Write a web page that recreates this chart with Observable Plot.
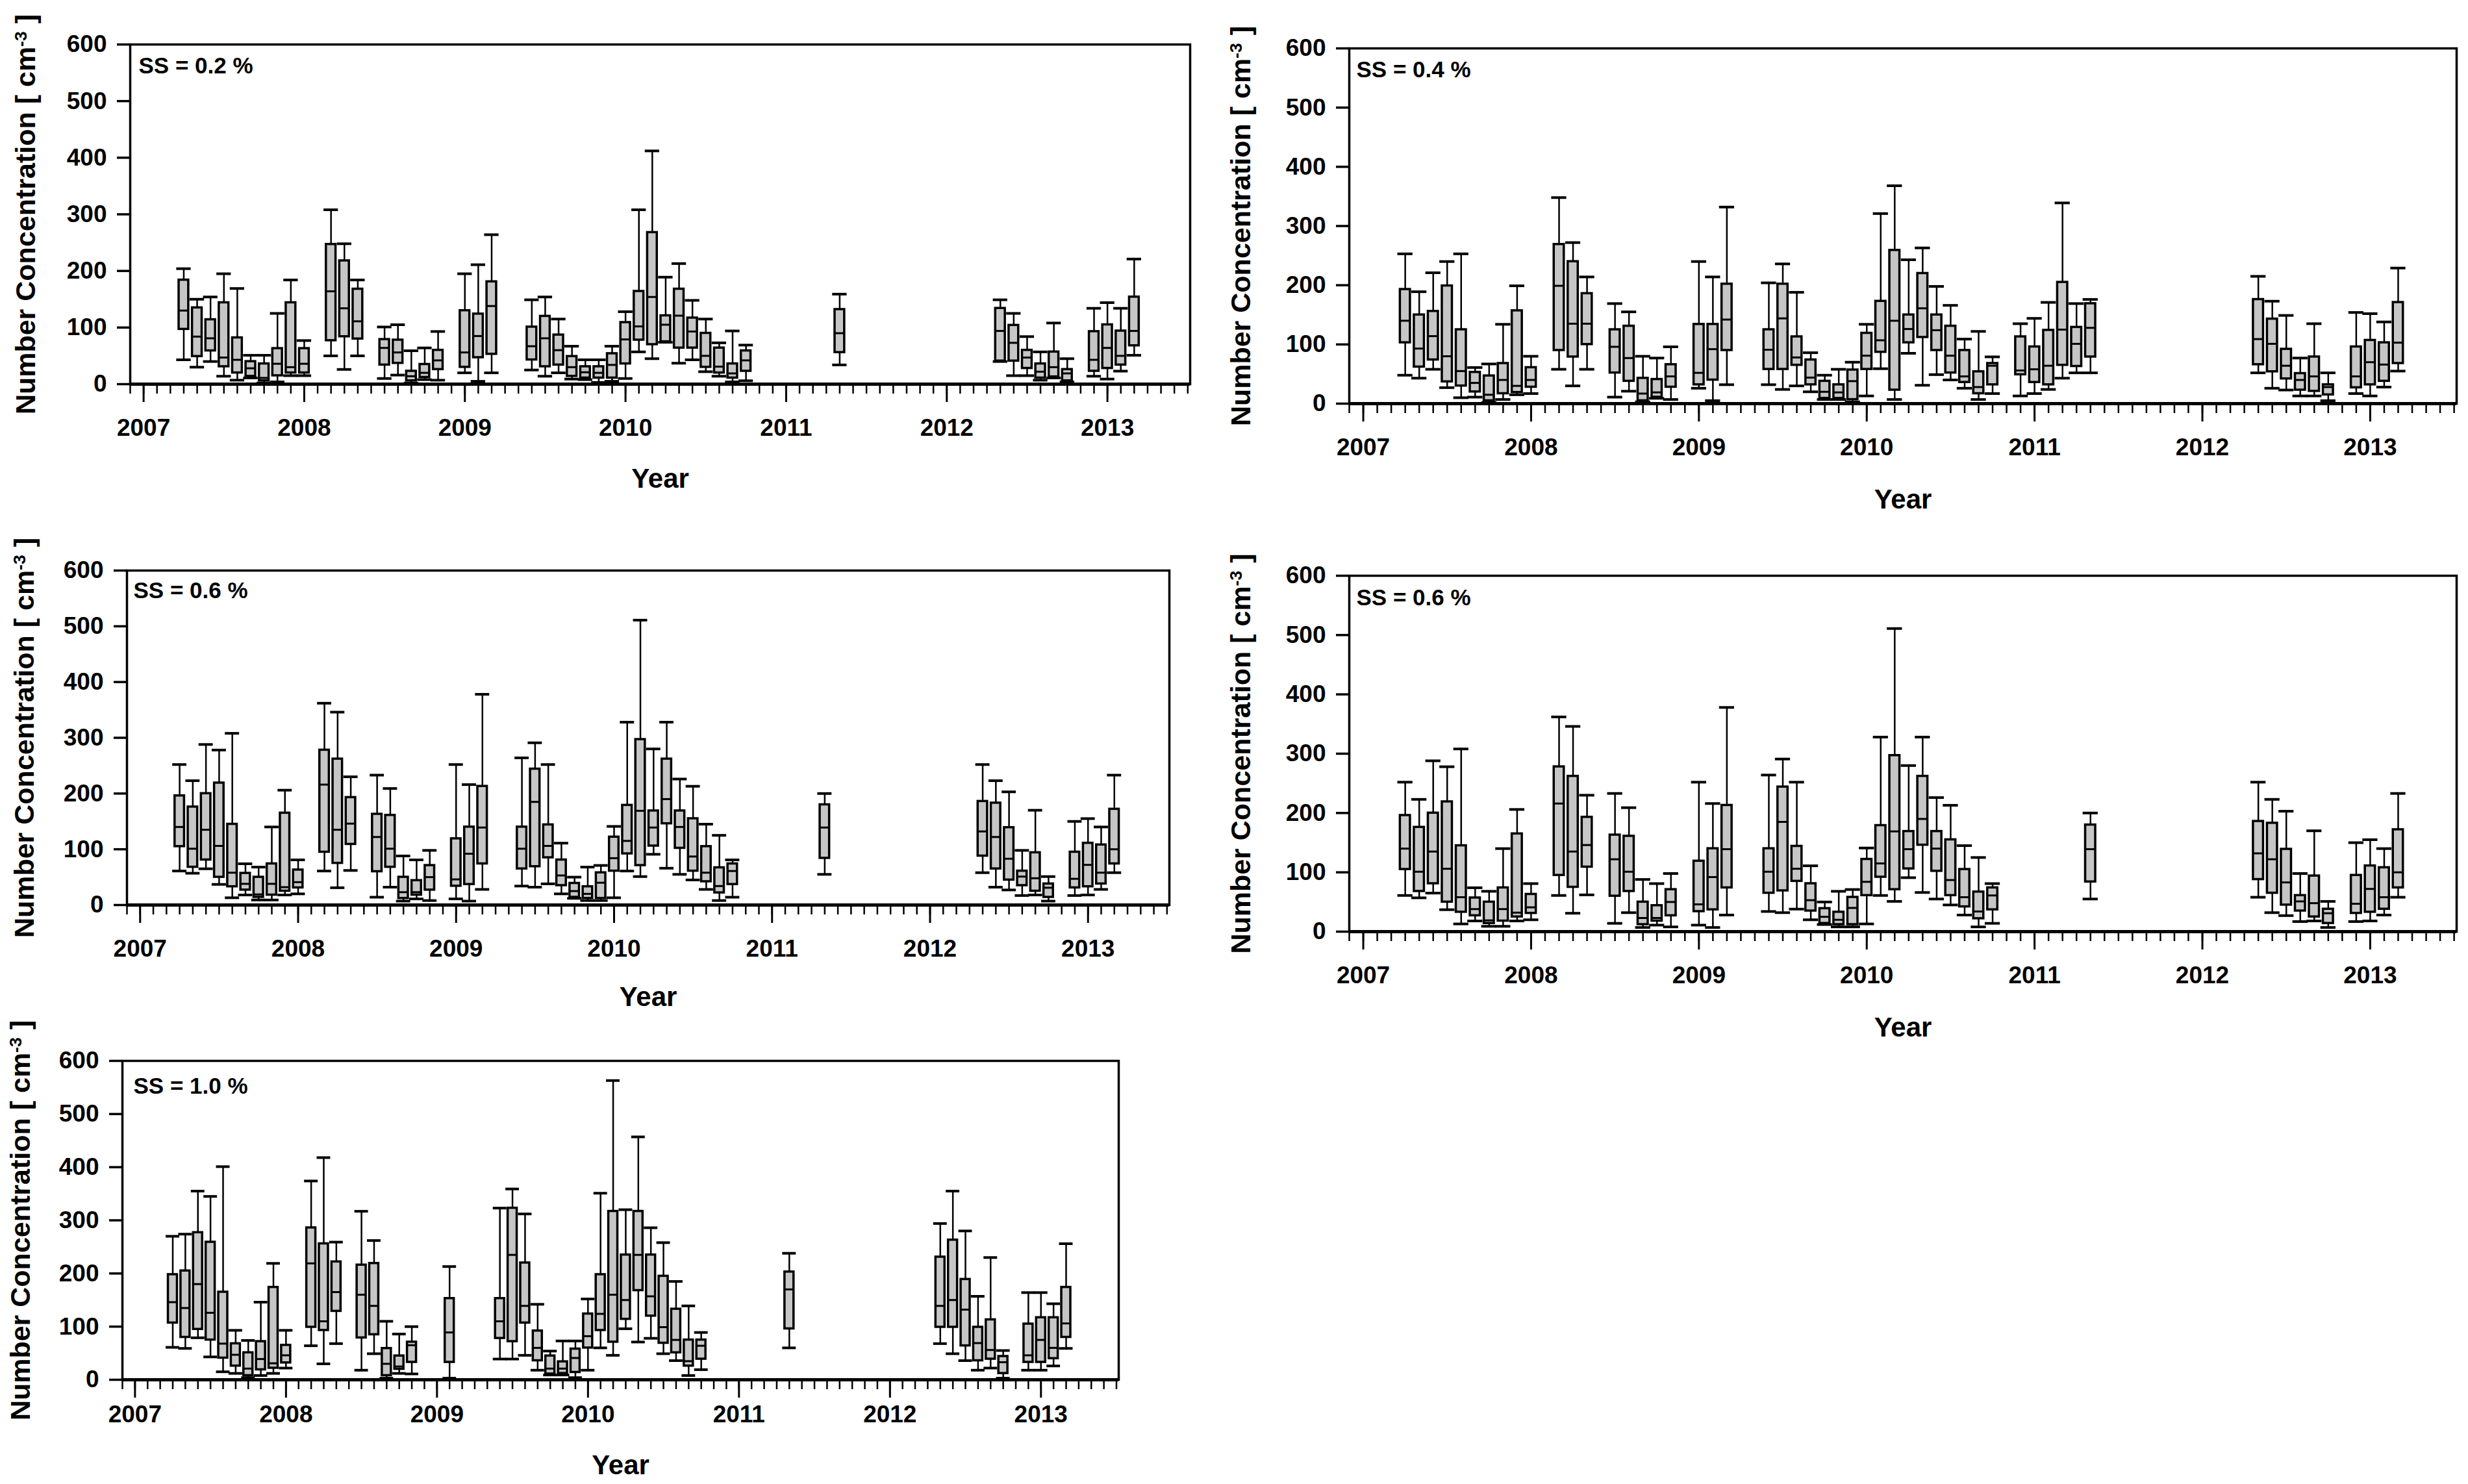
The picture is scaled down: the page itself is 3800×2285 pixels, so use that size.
<!DOCTYPE html>
<html>
<head>
<meta charset="utf-8">
<script src="https://cdn.jsdelivr.net/npm/d3@7"></script>
<script src="https://cdn.jsdelivr.net/npm/@observablehq/plot@0.6"></script>
<style>
  html, body { margin: 0; padding: 0; background: #ffffff; }
  #page { position: relative; width: 3800px; height: 2285px; overflow: hidden; background: #ffffff; }
</style>
</head>
<body>
<div id="page"></div>
<script>
// ---------------- DATA ----------------
const yTicks = [0, 100, 200, 300, 400, 500, 600];
const yearTicks = [2007, 2008, 2009, 2010, 2011, 2012, 2013];
const ssLabels = ["SS = 0.2 %", "SS = 0.4 %", "SS = 0.6 %", "SS = 1.0 %"];
const yLabelText = "Number Concentration [ cm-3 ]";
const xLabelText = "Year";

// SS = 0.2 %
const months02 = ["2007-04","2007-05","2007-06","2007-07","2007-08","2007-09","2007-10","2007-11","2007-12","2008-01",
  "2008-03","2008-04","2008-05","2008-07","2008-08","2008-09","2008-10","2008-11",
  "2009-01","2009-02","2009-03","2009-06","2009-07","2009-08","2009-09","2009-10","2009-11","2009-12",
  "2010-01","2010-02","2010-03","2010-04","2010-05","2010-06","2010-07","2010-08","2010-09","2010-10",
  "2011-05","2012-05","2012-06","2012-07","2012-08","2012-09","2012-10","2012-12","2013-01","2013-02","2013-03"];
const hi02  = [204,150,154,195,169,51,51,125,184,77, 308,248,184,101,105,59,64,93, 195,211,264,149,154,115,67,43,43,67, 128,308,412,189,213,148,115,73,94,69, 159,149,125,84,57,108,45,134,144,134,221];
const q302  = [184,135,114,144,82,40,36,63,144,63, 247,218,168,79,78,23,35,60, 130,124,181,101,120,87,49,31,31,54, 109,164,268,121,168,117,90,64,36,59, 132,134,104,60,36,57,26,93,105,94,154];
const med02 = [130,84,81,47,43,28,11,36,30,36, 164,134,111,64,56,14,20,42, 56,85,138,67,81,60,30,21,20,34, 79,102,154,105,121,93,50,31,19,42, 90,94,73,47,22,30,19,43,64,50,94];
const q102  = [97,49,59,31,20,14,6,15,20,20, 77,84,80,34,37,6,12,26, 30,47,53,43,31,34,14,11,11,11, 36,78,70,75,64,64,30,20,11,23, 56,41,41,28,11,13,6,23,28,34,68];
const lo02  = [43,30,40,14,7,11,2,4,15,15, 50,26,50,10,16,2,8,7, 20,5,20,25,14,20,9,8,3,5, 10,57,45,74,37,43,22,14,4,6, 34,40,15,15,7,11,4,14,9,23,51];

// SS = 0.4 %
const months04 = ["2007-04","2007-05","2007-06","2007-07","2007-08","2007-09","2007-10","2007-11","2007-12","2008-01",
  "2008-03","2008-04","2008-05","2008-07","2008-08","2008-09","2008-10","2008-11",
  "2009-01","2009-02","2009-03","2009-06","2009-07","2009-08","2009-09","2009-10","2009-11","2009-12",
  "2010-01","2010-02","2010-03","2010-04","2010-05","2010-06","2010-07","2010-08","2010-09","2010-10",
  "2010-12","2011-01","2011-02","2011-03","2011-04","2011-05",
  "2012-05","2012-06","2012-07","2012-08","2012-09","2012-10","2012-12","2013-01","2013-02","2013-03"];
const hi04  = [253,189,221,240,253,61,67,134,199,80, 348,272,214,169,155,80,77,96, 240,214,332,204,236,188,86,48,58,70, 134,321,368,243,263,198,166,109,122,79, 135,144,171,339,169,176, 215,173,149,77,135,52,154,152,138,229];
const q304  = [193,150,156,199,125,53,47,68,157,61, 269,240,186,125,131,43,41,66, 134,134,202,125,202,113,74,38,32,57, 119,173,259,150,220,150,131,90,54,68, 113,96,124,205,129,169, 176,143,92,51,79,32,96,107,103,171];
const med04 = [140,93,114,80,55,35,15,40,30,40, 199,135,135,96,77,17,19,46, 52,92,142,91,144,78,44,20,19,38, 81,107,140,126,161,124,81,46,28,64, 56,58,64,125,101,128, 109,101,64,40,46,28,46,70,66,103];
const q104  = [103,62,74,37,30,20,5,17,19,28, 90,79,100,52,38,5,11,28, 32,40,90,58,58,65,32,9,9,7, 58,87,23,103,112,90,52,36,17,32, 49,36,32,65,63,79, 66,54,42,23,21,15,27,32,38,68];
const lo04  = [48,43,58,27,10,11,2,7,15,17, 58,30,58,11,21,3,9,7, 26,5,32,32,24,30,20,7,7,3, 13,59,7,85,31,49,40,26,7,17, 13,17,24,43,52,52, 52,26,23,13,13,5,17,13,28,55];

// SS = 0.6 %
const months06 = ["2007-04","2007-05","2007-06","2007-07","2007-08","2007-09","2007-10","2007-11","2007-12","2008-01",
  "2008-03","2008-04","2008-05","2008-07","2008-08","2008-09","2008-10","2008-11",
  "2009-01","2009-02","2009-03","2009-06","2009-07","2009-08","2009-09","2009-10","2009-11","2009-12",
  "2010-01","2010-02","2010-03","2010-04","2010-05","2010-06","2010-07","2010-08","2010-09","2010-10",
  "2011-05","2012-05","2012-06","2012-07","2012-08","2012-09","2012-10","2012-12","2013-01","2013-02","2013-03"];
const hi06  = [252,223,288,278,308,74,68,140,206,81, 362,346,230,233,209,88,81,98, 252,216,378,264,291,252,111,50,68,71, 141,328,511,280,328,226,213,145,125,81, 200,252,223,203,98,170,51,150,155,140,233];
const q306  = [196,176,200,219,145,57,50,74,165,63, 278,262,193,163,161,50,44,71, 119,140,213,140,244,144,81,39,33,58, 122,179,297,169,262,169,155,105,67,74, 180,186,183,139,61,94,38,95,111,108,172];
const med06 = [140,101,135,106,58,38,19,38,32,41, 216,135,146,122,101,23,23,50, 46,92,139,101,185,106,53,25,20,40, 84,115,169,139,190,140,87,58,34,61, 139,132,122,83,51,48,31,47,72,58,100];
const q106  = [105,68,81,50,33,27,14,18,25,31, 95,75,109,60,68,12,18,27, 34,37,74,65,69,85,35,14,12,12, 61,92,71,106,146,102,61,42,22,37, 84,88,65,45,35,25,14,31,33,38,74];
const lo06  = [61,57,65,37,13,18,9,9,18,20, 61,31,62,14,32,7,11,8, 11,7,28,34,32,38,20,12,8,8, 13,61,51,91,66,55,45,28,8,14, 55,58,32,27,17,18,7,17,18,28,58];

// SS = 1.0 %
const months10 = ["2007-04","2007-05","2007-06","2007-07","2007-08","2007-09","2007-10","2007-11","2007-12","2008-01",
  "2008-03","2008-04","2008-05","2008-07","2008-08","2008-09","2008-10","2008-11",
  "2009-02","2009-06","2009-07","2009-08","2009-09","2009-10","2009-11","2009-12",
  "2010-01","2010-02","2010-03","2010-04","2010-05","2010-06","2010-07","2010-08","2010-09","2010-10",
  "2011-05","2012-05","2012-06","2012-07","2012-08","2012-09","2012-10","2012-12","2013-01","2013-02","2013-03"];
const hi10  = [270,274,355,345,401,93,74,146,219,93, 374,418,259,317,262,110,86,100, 213,323,359,312,142,54,73,73, 152,351,563,320,457,286,258,185,139,89, 238,294,355,280,157,230,55,164,164,143,256];
const q310  = [198,205,277,259,165,68,51,72,174,65, 286,256,222,216,219,59,45,71, 153,153,323,220,92,45,34,58, 124,198,317,235,317,235,195,133,75,75, 203,231,263,189,99,113,44,105,117,117,174];
const med10 = [146,135,180,126,68,47,21,39,31,46, 219,110,165,160,139,30,25,65, 89,110,235,139,60,21,21,41, 82,124,160,150,235,157,99,75,35,64, 170,139,150,132,69,56,33,46,75,60,106];
const q110  = [107,80,95,75,41,26,8,19,22,32, 99,93,129,79,85,8,20,33, 33,78,72,107,36,11,12,14, 60,93,71,114,168,120,69,51,26,39, 96,99,99,64,36,39,12,33,33,40,80];
const lo10  = [61,59,79,43,15,12,4,8,12,22, 64,30,68,18,49,3,12,11, 3,39,39,46,18,9,9,4, 18,60,46,96,71,78,49,36,8,19, 60,68,49,36,18,22,3,18,18,26,59];

// ---------------- DRAWING ----------------
const monthToYear = s => { const [y, m] = s.split("-").map(Number); return y + (m - 1) / 12; };
const xDomain = [2006 + 11 / 12, 2013.515];
const monthTicks = d3.range(0, 80).map(i => 2006 + 11 / 12 + i / 12).filter(v => v <= 2013.52);

const FONT = "'Liberation Sans', Arial, Helvetica, sans-serif";
const boxHalf = 0.03;   // half box width in years
const capHalf = 0.045;  // half cap width in years

const panels = [
  {ss: ssLabels[0], months: months02, hi: hi02, q3: q302, med: med02, q1: q102, lo: lo02,
   L: 200, R: 1832, T: 68, B: 591, labX: 40, yearC: 146, tickPad: 25, ssDx: 13, ssDy: 20},
  {ss: ssLabels[1], months: months04, hi: hi04, q3: q304, med: med04, q1: q104, lo: lo04,
   L: 2077, R: 3782, T: 74, B: 621, labX: 1911, yearC: 148, tickPad: 25, ssDx: 11, ssDy: 20},
  {ss: ssLabels[2], months: months06, hi: hi06, q3: q306, med: med06, q1: q106, lo: lo06,
   L: 195, R: 1800, T: 878, B: 1393, labX: 38, yearC: 142, tickPad: 25, ssDx: 10, ssDy: 18},
  {ss: ssLabels[2], months: months06, hi: hi06, q3: q306, med: med06, q1: q106, lo: lo06,
   L: 2077, R: 3782, T: 886, B: 1434, labX: 1911, yearC: 148, tickPad: 25, ssDx: 11, ssDy: 21},
  {ss: ssLabels[3], months: months10, hi: hi10, q3: q310, med: med10, q1: q110, lo: lo10,
   L: 188, R: 1722, T: 1633, B: 2124, labX: 32, yearC: 132, tickPad: 11, ssDx: 17, ssDy: 26}
];

const page = document.getElementById("page");

for (const p of panels) {
  const mL = 185, mR = 10, mT = 40, mB = 175;
  const W = (p.R - p.L) + mL + mR;
  const H = (p.B - p.T) + mT + mB;
  const rows = p.months.map((m, i) => ({
    x: monthToYear(m), lo: p.lo[i], q1: p.q1[i], med: p.med[i], q3: p.q3[i], hi: p.hi[i]
  }));

  const svg = Plot.plot({
    width: W, height: H,
    marginLeft: mL, marginRight: mR, marginTop: mT, marginBottom: mB,
    style: {fontFamily: FONT, fontWeight: "bold", fontSize: "34px", background: "transparent", overflow: "visible", maxWidth: "none", color: "black"},
    x: {type: "linear", domain: xDomain},
    y: {type: "linear", domain: [0, 600]},
    marks: [
      // whiskers
      Plot.ruleX(rows, {x: "x", y1: "lo", y2: "hi", stroke: "black", strokeWidth: 2.5}),
      // boxes
      Plot.rect(rows, {x1: d => d.x - boxHalf, x2: d => d.x + boxHalf, y1: "q1", y2: "q3",
        fill: "#c6c6c6", stroke: "black", strokeWidth: 3.5}),
      // medians
      Plot.ruleY(rows, {y: "med", x1: d => d.x - boxHalf, x2: d => d.x + boxHalf, stroke: "black", strokeWidth: 3}),
      // caps
      Plot.ruleY(rows, {y: "hi", x1: d => d.x - capHalf, x2: d => d.x + capHalf, stroke: "black", strokeWidth: 4}),
      Plot.ruleY(rows, {y: "lo", x1: d => d.x - capHalf, x2: d => d.x + capHalf, stroke: "black", strokeWidth: 4}),
      // frame and zero line
      Plot.frame({stroke: "black", strokeWidth: 3.5}),
      Plot.ruleY([0], {stroke: "black", strokeWidth: 5}),
      // axes
      Plot.axisY({ticks: yTicks, tickSize: 20, tickPadding: 16, strokeWidth: 3.5, label: null,
        fontSize: 37, fontWeight: "bold", tickFormat: d => String(d)}),
      Plot.axisX({ticks: monthTicks, tickSize: 15, tickPadding: 0, strokeWidth: 2.5, label: null,
        tickFormat: () => ""}),
      Plot.axisX({ticks: yearTicks, tickSize: 28, tickPadding: p.tickPad, strokeWidth: 3, label: null,
        fontSize: 37, fontWeight: "bold", tickFormat: d => String(d)}),
      // labels
      Plot.text([p.ss], {text: d => d, frameAnchor: "top-left", dx: p.ssDx, dy: p.ssDy,
        textAnchor: "start", lineAnchor: "top", fontSize: 35, fontWeight: "bold"}),
      Plot.text([yLabelText], {text: d => d, frameAnchor: "left", dx: p.labX - p.L, rotate: -90,
        textAnchor: "middle", lineAnchor: "middle", fontSize: 43, fontWeight: "bold"}),
      Plot.text([xLabelText], {text: d => d, frameAnchor: "bottom", dy: p.yearC,
        textAnchor: "middle", lineAnchor: "middle", fontSize: 42, fontWeight: "bold"})
    ]
  });

  // superscript for the unit in the y label
  svg.querySelectorAll("text").forEach(t => {
    if (t.textContent === yLabelText) {
      const ns = "http://www.w3.org/2000/svg";
      t.textContent = "Number Concentration [ cm";
      const sup = document.createElementNS(ns, "tspan");
      sup.setAttribute("dy", "-0.5em");
      sup.setAttribute("font-size", "0.62em");
      sup.textContent = "-3";
      const rest = document.createElementNS(ns, "tspan");
      rest.setAttribute("dy", "0.31em");
      rest.textContent = " ]";
      t.appendChild(sup);
      t.appendChild(rest);
    }
  });

  svg.style.position = "absolute";
  svg.style.left = (p.L - mL) + "px";
  svg.style.top = (p.T - mT) + "px";
  page.appendChild(svg);
}
</script>
</body>
</html>
